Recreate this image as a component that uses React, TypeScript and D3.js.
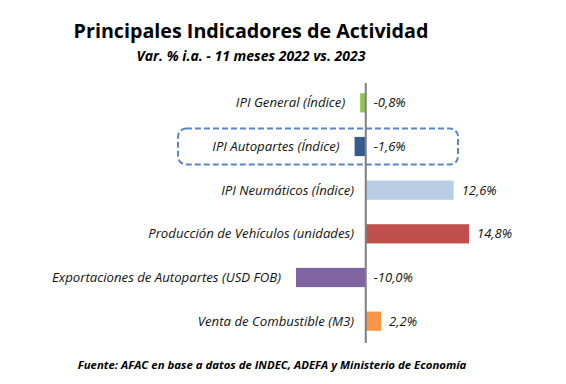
import React from "react";
import * as d3 from "d3";

// datos
const categorias = [
  "IPI General (Índice)",
  "IPI Autopartes (Índice)",
  "IPI Neumáticos (Índice)",
  "Producción de Vehículos (unidades)",
  "Exportaciones de Autopartes (USD FOB)",
  "Venta de Combustible (M3)",
];
const variaciones = [-0.8, -1.6, 12.6, 14.8, -10.0, 2.2];
const colores = ["#92C353", "#355C8C", "#B9CDE5", "#C0504D", "#8064A2", "#F79646"];
const destacado = "IPI Autopartes (Índice)";

const titulo = "Principales Indicadores de Actividad";
const subtitulo = "Var. % i.a. - 11 meses 2022 vs. 2023";
const fuente = "Fuente: AFAC en base a datos de INDEC, ADEFA y Ministerio de Economía";

const W = 566;
const H = 384;
const FONT = "'Open Sans', 'DejaVu Sans', sans-serif";

const fmt = (v: number) => v.toFixed(1).replace(".", ",") + "%";

export default function App() {
  const x = d3.scaleLinear().domain([-10, 14.8]).range([296, 469]);
  const y = d3.scaleBand<string>().domain(categorias).range([81, 343]).paddingInner(0.56).paddingOuter(0.28);
  const x0 = x(0);

  const rowH = y.step();
  const hy = (y(destacado) ?? 0) + y.bandwidth() / 2;

  return (
    <div style={{ position: "absolute", left: 0, top: 0 }}>
      <svg width={W} height={H} style={{ display: "block", background: "#fff" }}>
        <text x={251} y={38} textAnchor="middle" fontFamily={FONT} fontWeight="bold" fontSize={19.7} fill="#000">
          {titulo}
        </text>
        <text x={251} y={61} textAnchor="middle" fontFamily={FONT} fontWeight="bold" fontStyle="italic" fontSize={14} fill="#000">
          {subtitulo}
        </text>

        {/* recuadro punteado sobre autopartes */}
        <rect
          x={178}
          y={hy - rowH * 0.41}
          width={280}
          height={rowH * 0.82}
          rx={8}
          fill="none"
          stroke="#5B86C5"
          strokeWidth={2}
          strokeDasharray="6,3"
        />

        {categorias.map((c, i) => {
          const v = variaciones[i];
          const by = y(c) ?? 0;
          const cy = by + y.bandwidth() / 2;
          const xv = x(v);
          const labelEnd = Math.min(354, xv - 15);
          return (
            <g key={c}>
              <rect x={Math.min(x0, xv)} y={by} width={Math.abs(xv - x0)} height={y.bandwidth()} fill={colores[i]} />
              <text x={labelEnd} y={cy} dy="0.35em" textAnchor="end" fontFamily={FONT} fontStyle="italic" fontSize={13.2} fill="#111">
                {c}
              </text>
              <text x={Math.max(x0, xv) + 8} y={cy} dy="0.35em" fontFamily={FONT} fontStyle="italic" fontSize={13} fill="#111">
                {fmt(v)}
              </text>
            </g>
          );
        })}

        <line x1={x0} x2={x0} y1={83} y2={343} stroke="#7F7F7F" strokeWidth={2} />

        <text x={272} y={369} textAnchor="middle" fontFamily={FONT} fontWeight="bold" fontStyle="italic" fontSize={11.4} fill="#000">
          {fuente}
        </text>
      </svg>
    </div>
  );
}
